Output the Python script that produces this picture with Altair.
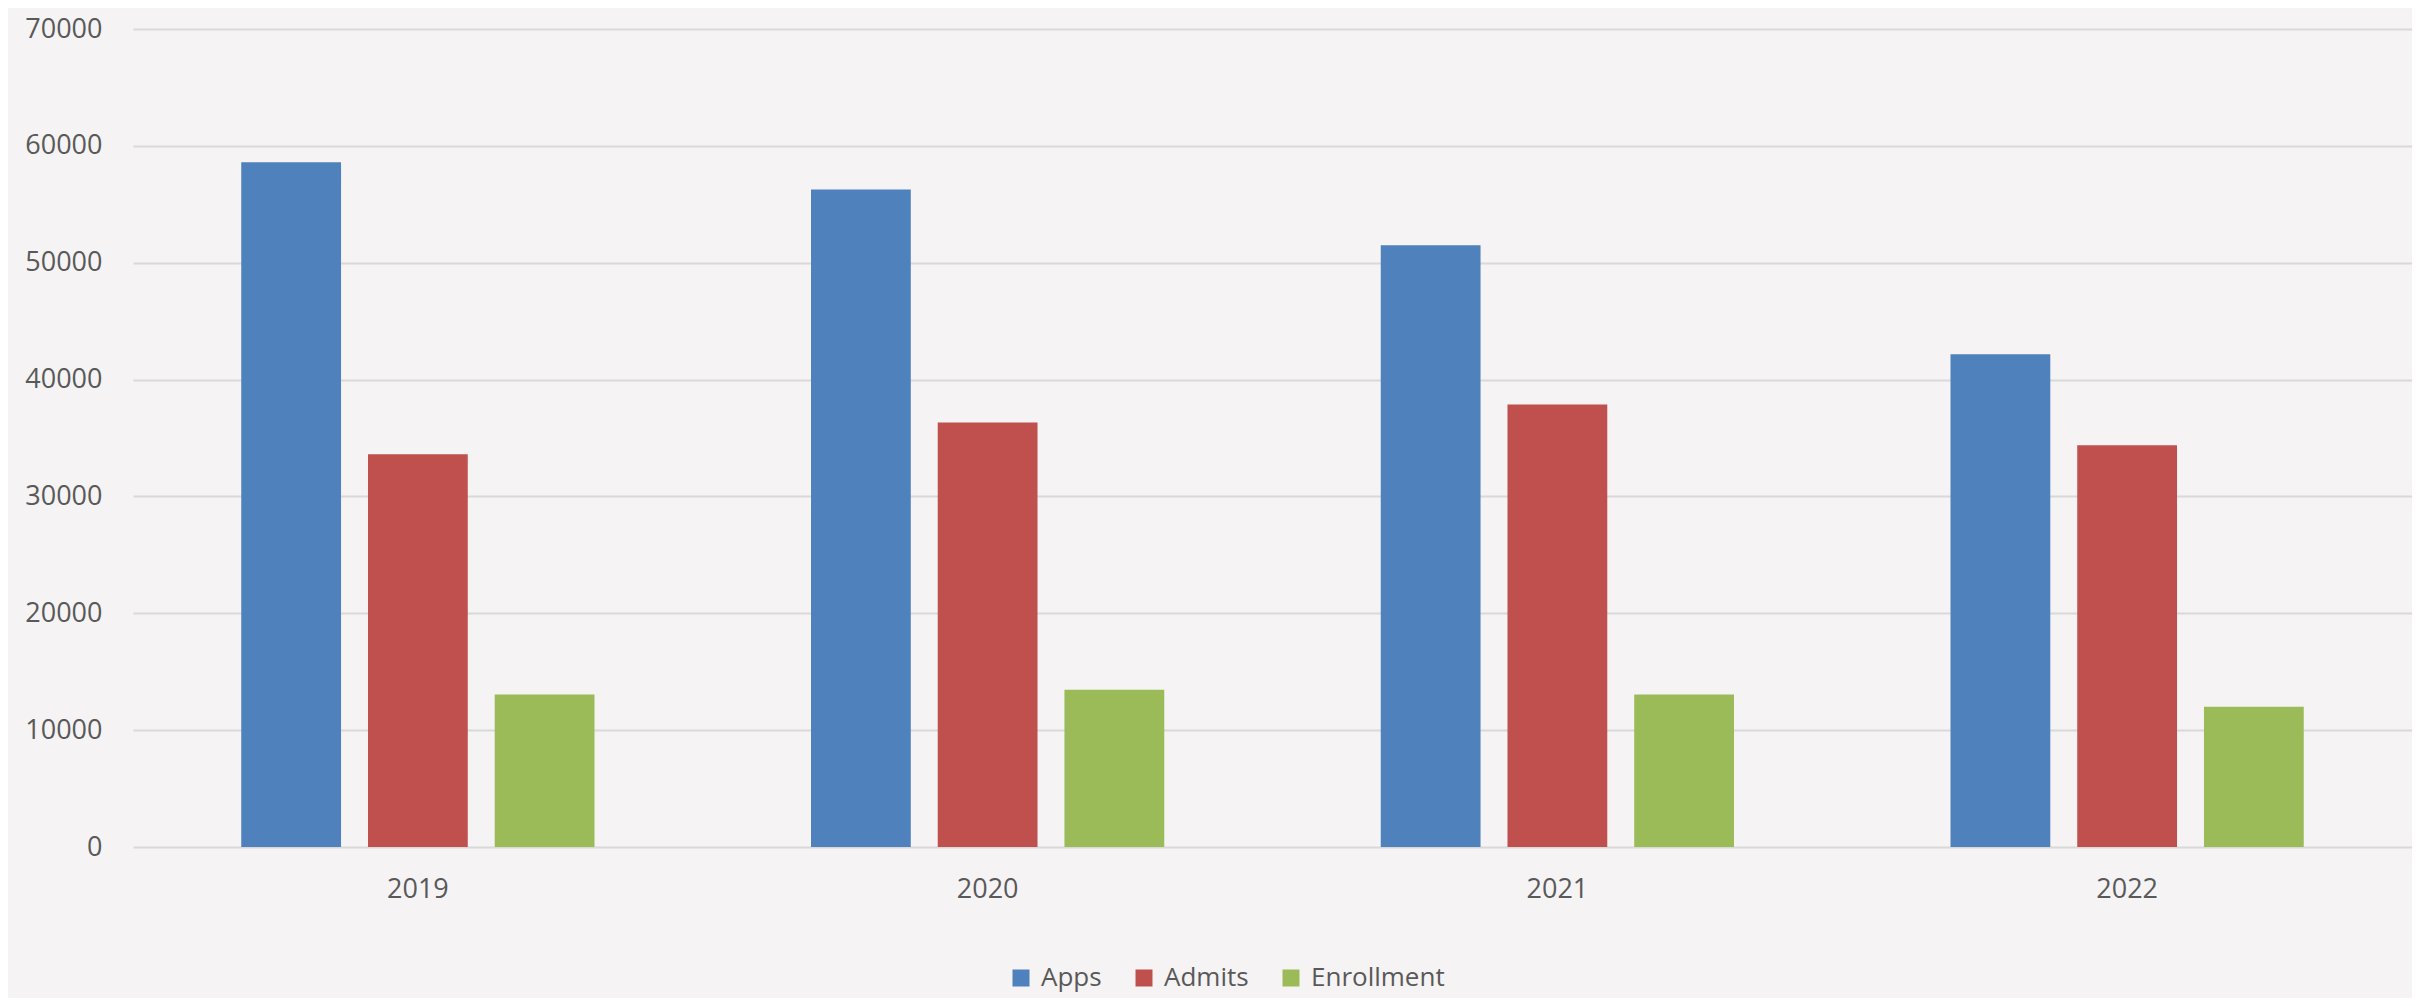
import altair as alt
import pandas as pd

years = ["2019", "2020", "2021", "2022"]
series = ["Apps", "Admits", "Enrollment"]
apps = [58600, 56270, 51500, 42170]
admits = [33600, 36320, 37860, 34370]
enrollment = [13060, 13460, 13060, 12000]
colors = ["#4f81bd", "#c0504d", "#9bbb59"]
y_ticks = [0, 10000, 20000, 30000, 40000, 50000, 60000, 70000]

rows = []
for name, vals in zip(series, [apps, admits, enrollment]):
    for yr, v in zip(years, vals):
        rows.append({"Year": yr, "Series": name, "Value": v})
df = pd.DataFrame(rows)

FONT = "Open Sans"
TXT = "#595959"

chart = alt.Chart(df).mark_bar().encode(
    x=alt.X("Year:N", sort=years,
            scale=alt.Scale(paddingInner=0.38, paddingOuter=0.19),
            axis=alt.Axis(title=None, labelAngle=0, domain=False, ticks=False,
                          labelPadding=29, labelFont=FONT, labelFontSize=27,
                          labelColor=TXT, grid=False)),
    xOffset=alt.XOffset("Series:N", sort=series,
                        scale=alt.Scale(paddingInner=0.2126, paddingOuter=0)),
    y=alt.Y("Value:Q", scale=alt.Scale(domain=[0, 70000], nice=False),
            axis=alt.Axis(title=None, values=y_ticks, format="d", domain=False,
                          ticks=False, labelPadding=31, labelFont=FONT,
                          labelFontSize=27, labelColor=TXT, grid=True,
                          gridColor="#d9d9d9", gridWidth=2)),
    color=alt.Color("Series:N", sort=series,
                    scale=alt.Scale(domain=series, range=colors),
                    legend=alt.Legend(title=None, orient="none", direction="horizontal",
                                      legendX=875, legendY=936, symbolType="square",
                                      symbolSize=289, symbolStrokeWidth=0,
                                      labelFont=FONT, labelFontSize=26, labelColor=TXT,
                                      labelOffset=7, columnPadding=29, padding=0)),
).properties(
    width=2279, height=818,
    padding={"left": 125, "top": 21, "right": 0, "bottom": 151},
    autosize=alt.AutoSizeParams(type="none"),
).configure(
    background="#f5f3f4",
).configure_view(stroke=None)

chart.save("out.html", embed_options={"renderer": "svg", "actions": False})
